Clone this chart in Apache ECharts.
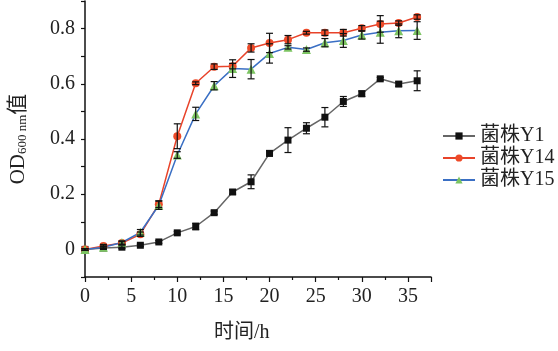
<!DOCTYPE html>
<html>
<head>
<meta charset="utf-8">
<script src="https://cdn.jsdelivr.net/npm/echarts@6/dist/echarts.min.js"></script>
<style>html,body{margin:0;padding:0;background:#fff;}#c{width:558px;height:351px;}</style>
</head>
<body>
<div id="c"></div>
<script>
var times = [0,2,4,6,8,10,12,14,16,18,20,22,24,26,28,30,32,34,36];
var seriesNames = ['菌株Y1','菌株Y14','菌株Y15'];
var y1 =  [0,0.005,0.008,0.015,0.027,0.060,0.083,0.133,0.208,0.245,0.348,0.396,0.439,0.479,0.536,0.564,0.618,0.599,0.611];
var y1e = [0.003,0.005,0.005,0.004,0.005,0.005,0.012,0.006,0.008,0.025,0.010,0.045,0.020,0.035,0.018,0.010,0.005,0.008,0.036];
var y14 = [0,0.012,0.023,0.055,0.164,0.410,0.602,0.662,0.664,0.730,0.748,0.760,0.785,0.785,0.785,0.801,0.817,0.820,0.842];
var y14e= [0.003,0.006,0.005,0.008,0.012,0.045,0.005,0.010,0.010,0.015,0.035,0.015,0.005,0.010,0.012,0.010,0.030,0.008,0.008];
var y15 = [0,0.008,0.025,0.062,0.160,0.342,0.491,0.593,0.655,0.653,0.710,0.732,0.724,0.749,0.757,0.777,0.787,0.792,0.793];
var y15e= [0.003,0.005,0.006,0.010,0.015,0.012,0.024,0.015,0.032,0.035,0.035,0.006,0.006,0.015,0.025,0.015,0.040,0.025,0.032];
var yTicks = [0,0.2,0.4,0.6,0.8];
var xTicks = [0,5,10,15,20,25,30,35];

var fontF = "'Liberation Serif','Noto Sans CJK SC',serif";
function pairs(v){ return times.map(function(t,i){ return [t, v[i]]; }); }
function errData(v,e){ return times.map(function(t,i){ return [t, v[i]-e[i], v[i]+e[i]]; }); }
function errSeries(v,e){
  return {
    type:'custom', data: errData(v,e), z: 5, silent:true,
    renderItem: function(params, api){
      var x = api.value(0);
      var lo = api.coord([x, api.value(1)]);
      var hi = api.coord([x, api.value(2)]);
      var w = 3.5;
      var st = {stroke:'#111', lineWidth:1.2};
      return {type:'group', children:[
        {type:'line', shape:{x1:lo[0],y1:lo[1],x2:hi[0],y2:hi[1]}, style:st},
        {type:'line', shape:{x1:lo[0]-w,y1:lo[1],x2:lo[0]+w,y2:lo[1]}, style:st},
        {type:'line', shape:{x1:hi[0]-w,y1:hi[1],x2:hi[0]+w,y2:hi[1]}, style:st}
      ]};
    }
  };
}
var chart = echarts.init(document.getElementById('c'));
chart.setOption({
  animation:false,
  backgroundColor:'#fff',
  grid:{left:81, right:127, top:1, bottom:74, containLabel:false},
  legend:{
    orient:'vertical', left:437, top:121, itemWidth:32, itemHeight:9, itemGap:2,
    data: seriesNames,
    textStyle:{fontFamily:fontF, fontSize:20, color:'#222'}
  },
  xAxis:{
    type:'value', min:0, max:37.5, interval:5,
    axisLine:{show:true, onZero:false, lineStyle:{color:'#111', width:1.5}},
    axisTick:{show:true, inside:false, length:5, lineStyle:{color:'#111', width:1.2}},
    minorTick:{show:true, splitNumber:2, length:3, lineStyle:{color:'#111', width:1.2}},
    splitLine:{show:false},
    axisLabel:{fontFamily:fontF, fontSize:20, color:'#222', margin:10,
      formatter:function(v){ return xTicks.indexOf(v) >= 0 ? String(v) : ''; }}
  },
  yAxis:{
    type:'value', min:-0.1, max:0.9, interval:0.1,
    axisLine:{show:true, onZero:false, lineStyle:{color:'#111', width:1.5}},
    axisTick:{show:true, inside:false, length:4, lineStyle:{color:'#111', width:1.2}},
    splitLine:{show:false},
    axisLabel:{fontFamily:fontF, fontSize:20, color:'#222', margin:10,
      formatter:function(v){
        var r = Math.round(v*10)/10;
        for (var i=0;i<yTicks.length;i++){ if (Math.abs(yTicks[i]-r)<1e-9) return r===0?'0':r.toFixed(1); }
        return '';
      }},
    name:'{a|OD}{s|600 nm}{a|值}', nameLocation:'middle', nameRotate:90, nameGap:56,
    nameTextStyle:{rich:{
      a:{fontFamily:fontF, fontSize:21, color:'#222'},
      s:{fontFamily:fontF, fontSize:13, color:'#222', verticalAlign:'bottom', padding:[8,0,0,0]}
    }}
  },
  graphic:[{type:'text', left:214, top:323, style:{text:'时间/h', fontFamily:fontF, fontSize:20, fill:'#222'}}],
  series:[
    {name:seriesNames[0], type:'line', data:pairs(y1), symbol:'rect', symbolSize:7,
      lineStyle:{color:'#666', width:1.5}, itemStyle:{color:'#111'}, z:3},
    {name:seriesNames[1], type:'line', data:pairs(y14), symbol:'circle', symbolSize:8,
      lineStyle:{color:'#e8432a', width:1.5}, itemStyle:{color:'#ee4a28'}, z:3},
    {name:seriesNames[2], type:'line', data:pairs(y15), symbol:'triangle', symbolSize:9,
      lineStyle:{color:'#3a6fc4', width:1.5}, itemStyle:{color:'#7cc462'}, z:3},
    errSeries(y1,y1e), errSeries(y14,y14e), errSeries(y15,y15e)
  ]
});
</script>
</body>
</html>
